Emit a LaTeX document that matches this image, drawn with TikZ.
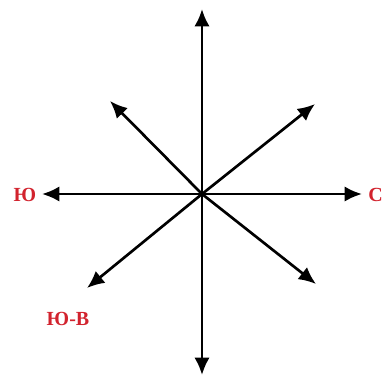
\documentclass[tikz,border=0pt]{standalone}
\usepackage{fontspec}
\setmainfont{Liberation Serif}
\usetikzlibrary{arrows.meta, positioning}
\definecolor{dirred}{HTML}{D2232E}

\begin{document}
\begin{tikzpicture}[x=0.75pt, y=-0.75pt,
  ray/.style={-{Latex[length=13pt, width=11.5pt]}, line width=2pt, color=black},
  lbl/.style={font=\fontsize{15}{15}\selectfont\bfseries, color=dirred, inner sep=0pt}
]
\useasboundingbox (0,0) rectangle (383,376);

% Centre and ray ends
\coordinate (o) at (202,194);
\coordinate (n) at (202,9);
\coordinate (s) at (202,375);
\coordinate (w) at (42,194);
\coordinate (e) at (362,194);
\coordinate (nw) at (110,101);
\coordinate (ne) at (315,104);
\coordinate (se) at (316,284);
\coordinate (sw) at (87,288);

% Rays
\draw[ray] (o) -- (n);
\draw[ray] (o) -- (s);
\draw[ray] (o) -- (w);
\draw[ray] (o) -- (e);
\draw[ray] (o) -- (nw);
\draw[ray] (o) -- (ne);
\draw[ray] (o) -- (se);
\draw[ray] (o) -- (sw);

% Labels
\node[lbl] (yu) at (25,195) {Ю};
\node[lbl, anchor=west] (c) at (368,195) {С};
\node[lbl] (yuv) at (68,319) {Ю-В};

\end{tikzpicture}
\end{document}
